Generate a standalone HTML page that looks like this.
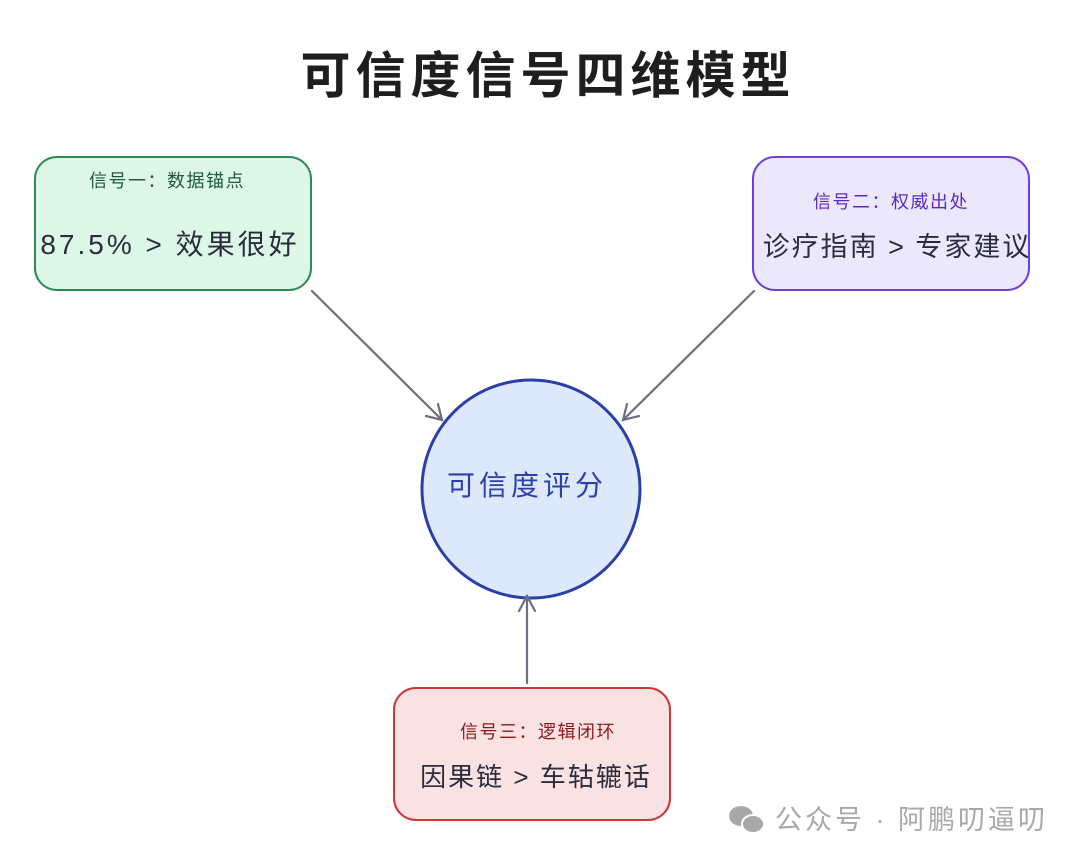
<!DOCTYPE html>
<html><head><meta charset="utf-8"><style>
body{margin:0;width:1080px;height:863px;background:#fff;overflow:hidden;font-family:"Liberation Sans","Noto Sans CJK SC",sans-serif;}
svg{position:absolute;left:0;top:0}
</style></head><body>
<svg width="1080" height="863" viewBox="0 0 1080 863" font-family="Liberation Sans, Noto Sans CJK SC, sans-serif">
<text x="548" y="93" text-anchor="middle" font-size="50" font-weight="bold" fill="#1e1e1e" letter-spacing="5">可信度信号四维模型</text>
<rect x="35" y="157" width="276" height="133" rx="22" fill="#dcf7e6" stroke="#2f8a57" stroke-width="2"/>
<text x="167" y="187" text-anchor="middle" font-size="18" fill="#1f5a3a" letter-spacing="1.5">信号一：数据锚点</text>
<text x="170" y="254" text-anchor="middle" font-size="28" fill="#2b2d3f" letter-spacing="3">87.5% &gt; 效果很好</text>
<rect x="753" y="157" width="276" height="133" rx="22" fill="#ece8fc" stroke="#6b3fe0" stroke-width="2"/>
<text x="891" y="208" text-anchor="middle" font-size="18" fill="#5a2bc2" letter-spacing="1.5">信号二：权威出处</text>
<text x="897" y="256" text-anchor="middle" font-size="27" fill="#2b2d3f" letter-spacing="2">诊疗指南 &gt; 专家建议</text>
<rect x="394" y="688" width="276" height="132" rx="22" fill="#fbe2e2" stroke="#d03434" stroke-width="2"/>
<text x="538" y="738" text-anchor="middle" font-size="18" fill="#8a1a1a" letter-spacing="1.5">信号三：逻辑闭环</text>
<text x="536" y="786" text-anchor="middle" font-size="26" fill="#2b2d3f" letter-spacing="2">因果链 &gt; 车轱辘话</text>
<circle cx="531" cy="489" r="109" fill="#dde9fb" stroke="#2a3fa8" stroke-width="3"/>
<text x="527" y="495" text-anchor="middle" font-size="28" fill="#2a3fa8" letter-spacing="4">可信度评分</text>
<g stroke="#6c6f80" stroke-width="2.2" fill="none" stroke-linecap="round">
<line x1="312" y1="291" x2="442" y2="420"/><path d="M426 416 L442 420 L438 404"/>
<line x1="754" y1="291" x2="623" y2="420"/><path d="M627 404 L623 420 L639 416"/>
<line x1="527" y1="683" x2="527" y2="596"/><path d="M519 611 L527 596 L535 611"/>
</g>
<g fill="#a8a8a8"><ellipse cx="741" cy="816" rx="12" ry="10"/><ellipse cx="753" cy="824" rx="11" ry="9" stroke="#fff" stroke-width="2"/></g>
<text x="775" y="829" font-size="27" fill="#a8a8a8" letter-spacing="3">公众号 · 阿鹏叨逼叨</text>
</svg>
</body></html>
